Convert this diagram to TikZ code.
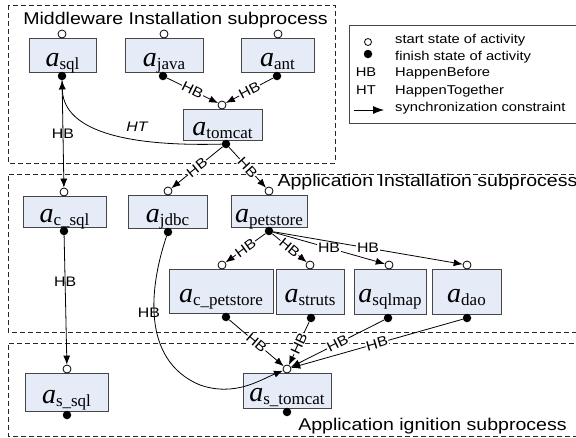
\documentclass[tikz,border=0pt]{standalone}
\usepackage{fontspec}
\setmainfont{Liberation Serif}
\newfontfamily\labelsans[FakeStretch=1.15]{Liberation Sans}
\usetikzlibrary{arrows.meta}

\definecolor{boxfill}{RGB}{229,235,247}
\definecolor{boxline}{RGB}{70,70,70}

% activity name: italic a with an upright subscript
\newcommand\actname[1]{{\fontsize{28}{28}\selectfont\itshape a}\raisebox{-3pt}{\fontsize{17}{18}\selectfont #1}}

\tikzset{
  act/.style={rectangle, draw=boxline, fill=boxfill, line width=0.9pt, inner sep=0pt},
  actlabel/.style={inner sep=0pt, anchor=base},
  startst/.style={circle, draw=black, fill=white, line width=0.8pt, minimum size=8pt, inner sep=0pt},
  finst/.style={circle, fill=black, minimum size=8.5pt, inner sep=0pt},
  grp/.style={draw=black!85, dash pattern=on 5pt off 3pt, line width=0.8pt},
  grptitle/.style={font=\labelsans\fontsize{17}{18}\selectfont, inner sep=0pt, anchor=base},
  hb/.style={draw=black, line width=0.8pt, -{Latex[length=9pt,width=7pt]}},
  hbl/.style={font=\labelsans\fontsize{13.8}{14}\selectfont, inner sep=0.6pt},
  hbf/.style={hbl, fill=white},
  legbox/.style={draw=boxline, line width=0.9pt},
  legtext/.style={font=\labelsans\fontsize{12.8}{14}\selectfont, inner sep=0pt, anchor=base west},
  legsym/.style={font=\labelsans\fontsize{12.8}{14}\selectfont, inner sep=0pt, anchor=base},
}

% box: name, left, top, right, bottom, start x, finish x, subscript
\newcommand\actbox[8]{%
  \node[act, minimum width={(#4-#2)*1pt}, minimum height={(#5-#3)*1pt}] (#1) at ({(#2+#4)/2},{(#3+#5)/2}) {};
  \node[actlabel] (#1-name) at ({(#2+#4)/2},{(#3+#5)/2+11}) {\actname{#8}};
  \node[startst] (#1-s) at (#6,{#3-4}) {};
  \node[finst] (#1-f) at (#7,{#5+4}) {};
}

\begin{document}
\begin{tikzpicture}[x=1pt,y=-1pt]
\useasboundingbox (0,0) rectangle (576,437);

% subprocess frames
\draw[grp] (8,5) rectangle (335,163);
\draw[grp] (590,174) -- (8,174) -- (8,332) -- (590,332);
\draw[grp] (590,343) -- (8,343) -- (8,436) -- (590,436);

\node[grptitle] (t-mid) at (175.5,24) {Middleware Installation subprocess};
\node[grptitle] (t-app) at (427.5,186.7) {Application Installation subprocess};
\node[grptitle] (t-ign) at (432.5,430) {Application ignition subprocess};

% activities
\actbox{sql}{29}{38}{96}{72}{62}{62}{sql}
\actbox{java}{125}{38}{203}{72}{164}{163}{java}
\actbox{ant}{241}{38}{314}{72}{278}{277}{ant}
\actbox{tomcat}{183}{109}{262}{140}{222}{226}{tomcat}
\actbox{csql}{23}{196}{106}{227}{64}{64}{c\_sql}
\actbox{jdbc}{128}{195}{207}{228}{168}{168}{jdbc}
\actbox{petstore}{231}{195}{307}{227}{269}{269}{petstore}
\actbox{cpetstore}{169}{269}{273}{313}{222}{226}{c\_petstore}
\actbox{struts}{276}{269}{344}{314}{310}{311}{struts}
\actbox{sqlmap}{354}{269}{426}{314}{389}{388}{sqlmap}
\actbox{dao}{432}{269}{501}{314}{467}{467}{dao}
\actbox{ssql}{25}{373}{108}{411}{67}{67}{s\_sql}
\actbox{stomcat}{243}{373}{331}{408}{287}{287}{s\_tomcat}

% middleware constraints
\draw[hb] (java-f) -- (tomcat-s) node[hbf, sloped, midway] {HB};
\draw[hb] (ant-f) -- (tomcat-s) node[hbf, sloped, midway] {HB};
\draw[hb] (tomcat-f) .. controls (110,147) and (63,125) .. (sql-f);
\node[hbl, font=\labelsans\itshape\fontsize{13.8}{14}\selectfont] (ht-lab) at (137,127) {HT};
\draw[hb] (sql-f) -- (csql-s) node[hbl, midway] {HB};

% installation constraints
\draw[hb] (tomcat-f) -- (jdbc-s) node[hbf, sloped, midway] {HB};
\draw[hb] (tomcat-f) -- (petstore-s) node[hbf, sloped, midway] {HB};
\draw[hb] (petstore-f) -- (cpetstore-s) node[hbf, sloped, midway] {HB};
\draw[hb] (petstore-f) -- (struts-s) node[hbf, sloped, midway] {HB};
\draw[hb] (petstore-f) -- (sqlmap-s) node[hbf, midway] {HB};
\draw[hb] (petstore-f) -- (dao-s) node[hbf, midway] {HB};

% ignition constraints
\draw[hb] (csql-f) -- (ssql-s) node[hbl, pos=0.36] {HB};
\draw[hb] (jdbc-f) .. controls (150,285) and (140,360) .. (200,385)
  .. controls (235,397) and (260,380) .. (stomcat-s);
\node[hbl] (jdbc-hb) at (149,313) {HB};
\draw[hb] (cpetstore-f) -- (stomcat-s) node[hbf, sloped, midway] {HB};
\draw[hb] (struts-f) -- (stomcat-s) node[hbf, sloped, midway] {HB};
\draw[hb] (sqlmap-f) -- (stomcat-s) node[hbf, sloped, midway] {HB};
\draw[hb] (dao-f) -- (stomcat-s) node[hbf, sloped, midway] {HB};

% legend
\draw[legbox] (349,25) rectangle (590,123);
\node[startst, minimum size=7pt] (lg-s) at (368,42) {};
\node[finst] (lg-f) at (368,54) {};
\node[legsym] (lg-hb) at (366,76.6) {HB};
\node[legsym] (lg-ht) at (366,94.6) {HT};
\coordinate (lg-a1) at (354,110);
\coordinate (lg-a2) at (384,110);
\draw[hb, -{Latex[length=11pt,width=8pt]}] (lg-a1) -- (lg-a2);
\node[legtext] (lg-t1) at (395,43.3) {start state of activity};
\node[legtext] (lg-t2) at (395,60) {finish state of activity};
\node[legtext] (lg-t3) at (395,76.6) {HappenBefore};
\node[legtext] (lg-t4) at (395,94.6) {HappenTogether};
\node[legtext] (lg-t5) at (395,111.5) {synchronization constraint};
\end{tikzpicture}
\end{document}
